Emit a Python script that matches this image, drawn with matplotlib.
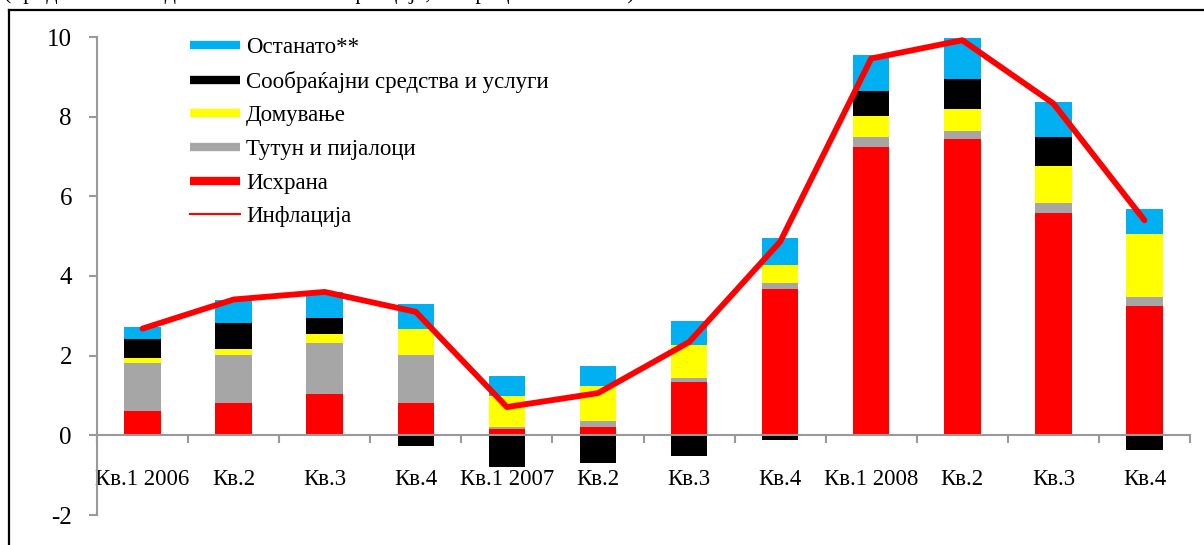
import numpy as np
import matplotlib
matplotlib.use("Agg")
import matplotlib.pyplot as plt
from matplotlib.lines import Line2D

plt.rcParams['font.family'] = ['Liberation Serif', 'DejaVu Serif']

quarters = ["Кв.1 2006", "Кв.2", "Кв.3", "Кв.4",
            "Кв.1 2007", "Кв.2", "Кв.3", "Кв.4",
            "Кв.1 2008", "Кв.2", "Кв.3", "Кв.4"]

food = [0.60, 0.80, 1.04, 0.80, 0.17, 0.21, 1.34, 3.67, 7.24, 7.44, 5.59, 3.24]
tobacco = [1.22, 1.21, 1.27, 1.21, 0.04, 0.15, 0.10, 0.15, 0.25, 0.20, 0.24, 0.24]
housing = [0.11, 0.15, 0.24, 0.65, 0.79, 0.88, 0.82, 0.45, 0.53, 0.54, 0.93, 1.58]
transport = [0.48, 0.65, 0.40, -0.27, -0.80, -0.70, -0.51, -0.12, 0.63, 0.76, 0.73, -0.36]
other = [0.30, 0.58, 0.64, 0.64, 0.48, 0.49, 0.60, 0.68, 0.90, 1.04, 0.88, 0.62]
inflation = [2.68, 3.41, 3.60, 3.10, 0.71, 1.06, 2.34, 4.86, 9.46, 9.92, 8.33, 5.40]

series = [
    ("Исхрана", food, "#FF0000"),
    ("Тутун и пијалоци", tobacco, "#A6A6A6"),
    ("Домување", housing, "#FFFF00"),
    ("Сообраќајни средства и услуги", transport, "#000000"),
    ("Останато**", other, "#00B0F0"),
]

fig = plt.figure(figsize=(12.04, 5.45), dpi=100)
ax = fig.add_axes([97 / 1204, 1 - 515 / 545, (1190 - 97) / 1204, (515 - 37) / 545])

x = np.arange(len(quarters))
pos_base = np.zeros(len(x))
neg_base = np.zeros(len(x))
for name, vals, col in series:
    v = np.array(vals)
    bottom = np.where(v >= 0, pos_base, neg_base)
    ax.bar(x, v, width=0.4, bottom=bottom, color=col, zorder=2)
    pos_base = pos_base + np.where(v >= 0, v, 0)
    neg_base = neg_base + np.where(v < 0, v, 0)

ax.plot(x, inflation, color="#FF0000", lw=4.2, zorder=3, solid_capstyle='round')

ax.set_xlim(-0.5, len(x) - 0.5)
ax.set_ylim(-2, 10)
ax.set_yticks([-2, 0, 2, 4, 6, 8, 10])
ax.set_yticklabels(["-2", "0", "2", "4", "6", "8", "10"])

for s in ["top", "right"]:
    ax.spines[s].set_visible(False)
ax.spines["bottom"].set_position(("data", 0))
ax.spines["bottom"].set_color("#999999")
ax.spines["left"].set_color("#999999")
ax.spines["bottom"].set_linewidth(1.5)
ax.spines["left"].set_linewidth(1.5)

ax.set_xticks(x)
ax.set_xticklabels(quarters)
ax.set_xticks(np.arange(-0.5, len(x) + 0.5, 1), minor=True)
ax.tick_params(axis="x", which="major", length=0, pad=24, labelsize=16.5)
ax.tick_params(axis="x", which="minor", length=6, width=1.5, color="#999999", direction="out")
ax.tick_params(axis="y", length=6, width=1.5, color="#999999", pad=12, labelsize=18)

# legend
handles = [Line2D([], [], color=c, lw=6, solid_capstyle='butt') for _, _, c in reversed(series)]
handles.append(Line2D([], [], color="#FF0000", lw=1.5))
labels = [n for n, _, _ in reversed(series)] + ["Инфлација"]
fig.legend(handles, labels, loc="upper left", bbox_to_anchor=(190 / 1204, 1 - 37 / 545),
           frameon=False, fontsize=16.5, handlelength=2.2, handletextpad=0.25,
           labelspacing=0.55, borderpad=0, borderaxespad=0)

# outer frame (right and bottom fall outside the picture)
fig.add_artist(Line2D([8.5 / 1204, 8.5 / 1204], [0, 1 - 10 / 545], color="black", lw=1.6))
fig.add_artist(Line2D([8.5 / 1204, 1], [1 - 10 / 545, 1 - 10 / 545], color="black", lw=1.6))

# title line, cut off at the top as in the source picture
fig.text(4 / 1204, 1 + 1 / 545, "(придонеси во годишна стапка на инфлација, во процентни поени)",
         fontsize=16, va="baseline", ha="left")

fig.savefig("out.png", dpi=100)
